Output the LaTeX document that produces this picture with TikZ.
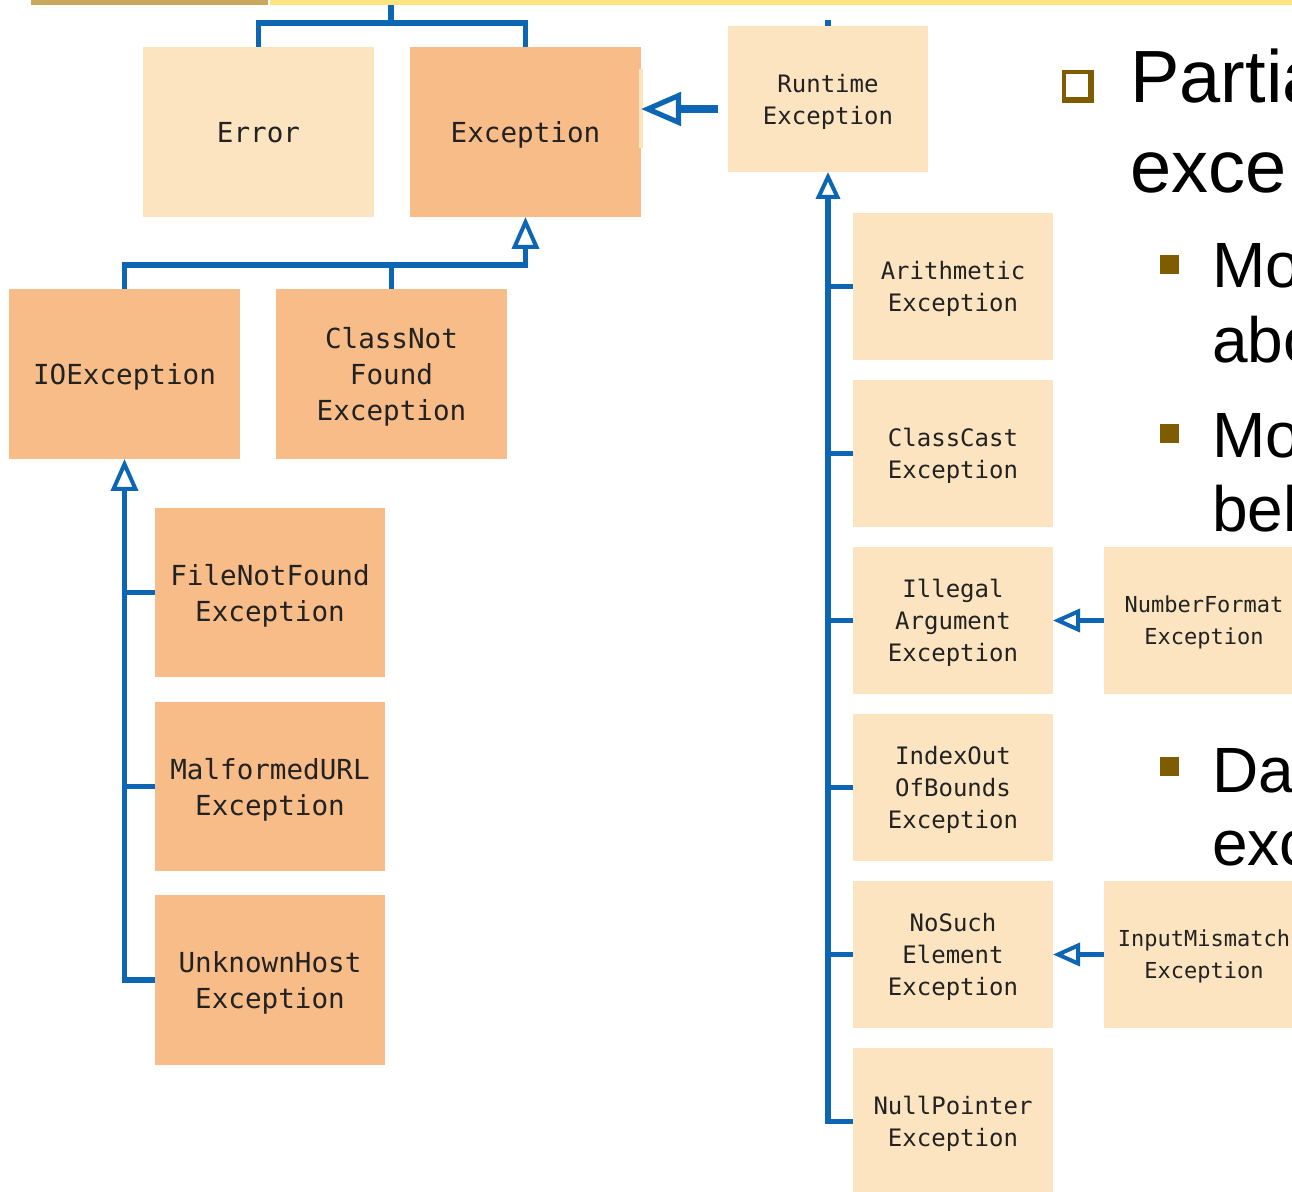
\documentclass[tikz,border=0pt]{standalone}
\usepackage{fontspec}
\setmainfont{Liberation Sans}
\setmonofont{DejaVu Sans Mono}
\usetikzlibrary{arrows.meta}
\definecolor{lite}{RGB}{252,228,192}
\definecolor{dark}{RGB}{248,188,136}
\definecolor{lnblue}{RGB}{12,102,180}
\definecolor{olive}{RGB}{128,92,0}
\definecolor{txtc}{RGB}{34,34,34}
\definecolor{barYellow}{RGB}{255,229,128}
\definecolor{goldc}{RGB}{200,168,90}
\begin{document}
\begin{tikzpicture}[x=0.5pt,y=-0.5pt,
  box/.style={inner sep=0pt,outer sep=0pt,anchor=north west,align=center,text=txtc,text depth=0pt},
  bigL/.style={box,minimum width=115.5pt,minimum height=85pt,font=\ttfamily\fontsize{13.8}{18}\selectfont},
  smR/.style={box,minimum width=100pt,minimum height=73.5pt,font=\ttfamily\fontsize{12}{16}\selectfont},
  smX/.style={box,minimum width=100pt,minimum height=73.5pt,font=\ttfamily\fontsize{11}{16}\selectfont},
  conn/.style={draw=lnblue,line width=2.8pt},
  tipE/.style={-{Triangle[length=16pt,width=13.5pt,fill=white,line width=2pt]}},
  tipR/.style={-{Triangle[length=13.5pt,width=12pt,fill=white,line width=2pt]}},
  tipS/.style={-{Triangle[length=13.5pt,width=11.5pt,fill=white,line width=2pt]}},
  tipB/.style={-{Triangle[length=20pt,width=16.5pt,fill=white,line width=2.6pt]}},
  lvA/.style={anchor=base west,inner sep=0pt,font=\fontsize{37}{44}\selectfont},
  lvB/.style={anchor=base west,inner sep=0pt,font=\fontsize{32}{38}\selectfont}
]
\useasboundingbox (0,0) rectangle (1292,1192);
\clip (0,0) rectangle (1292,1192);
\fill[white] (0,0) rectangle (1292,1192);

% boxes
\node[bigL,fill=lite] (err) at (143,47) {Error};
\node[bigL,fill=dark] (exc) at (410,47) {Exception};
\node[smR,fill=lite,minimum height=73pt] (rt) at (728,26) {Runtime\\Exception};
\node[bigL,fill=dark] (io) at (9,289) {IOException};
\node[bigL,fill=dark] (cnf) at (276,289) {ClassNot\\Found\\Exception};
\node[bigL,fill=dark,minimum width=115pt,minimum height=84.5pt] (fnf) at (155,508) {FileNotFound\\Exception};
\node[bigL,fill=dark,minimum width=115pt,minimum height=84.5pt] (mal) at (155,702) {MalformedURL\\Exception};
\node[bigL,fill=dark,minimum width=115pt] (uh) at (155,895) {UnknownHost\\Exception};

\node[smR,fill=lite] (ar) at (853,213) {Arithmetic\\Exception};
\node[smR,fill=lite] (cc) at (853,380) {ClassCast\\Exception};
\node[smR,fill=lite] (ia) at (853,547) {Illegal\\Argument\\Exception};
\node[smR,fill=lite] (iob) at (853,714) {IndexOut\\OfBounds\\Exception};
\node[smR,fill=lite] (ns) at (853,881) {NoSuch\\Element\\Exception};
\node[smR,fill=lite] (np) at (853,1048) {NullPointer\\Exception};
\node[smX,fill=lite] (nf) at (1104,547) {NumberFormat\\Exception};
\node[smX,fill=lite] (im) at (1104,881) {InputMismatch\\Exception};

\fill[lite] (639,69) rectangle (643,148);

% connectors
\coordinate (topc) at (391,0);
\coordinate (topj) at (391,23);
\draw[conn] (topc) -- (topj);
\draw[conn] (err.north) -- ++(0,-24) -| (exc.north);
\draw[conn,tipE] (io.north) -- ++(0,-24) -| (exc.south);
\draw[conn] (cnf.north) -- ++(0,-24);
\draw[conn] (rt.north) -- ++(0,-6);
\draw[conn,tipR] (np.west) -| (rt.south);
\foreach \n in {ar,cc,ia,iob,ns} \draw[conn] (\n.west) -- (\n.west -| rt.south);
\draw[conn,tipE] (uh.west) -| (io.south);
\foreach \n in {fnf,mal} \draw[conn] (\n.west) -- (\n.west -| io.south);
\draw[conn,tipS] (nf.west) -- (ia.east);
\draw[conn,tipS] (im.west) -- (ns.east);
\draw[conn,line width=4pt,tipB] ([xshift=-5pt,yshift=-5pt]rt.west) -- ([yshift=-5pt]rt.west -| exc.east);

% top bars
\fill[goldc] (31,0) rectangle (268,5);
\fill[barYellow] (270,0) rectangle (1292,5);

% slide text
\fill[olive] (1062,70) rectangle (1094,103);
\fill[white] (1066,74) rectangle (1088,97);
\node[lvA] (t1) at (1130,103) {Partia};
\node[lvA] (t2) at (1130,193) {exce};
\fill[olive] (1160,255) rectangle (1179,274);
\node[lvB] (t3) at (1212,288) {Mo};
\node[lvB] (t4) at (1212,363) {abo};
\fill[olive] (1160,424) rectangle (1179,443);
\node[lvB] (t5) at (1212,458) {Mo};
\node[lvB] (t6) at (1212,532) {bel};
\fill[olive] (1160,757) rectangle (1179,776);
\node[lvB] (t7) at (1212,792) {Da};
\node[lvB] (t8) at (1212,865) {exc};
\end{tikzpicture}
\end{document}
